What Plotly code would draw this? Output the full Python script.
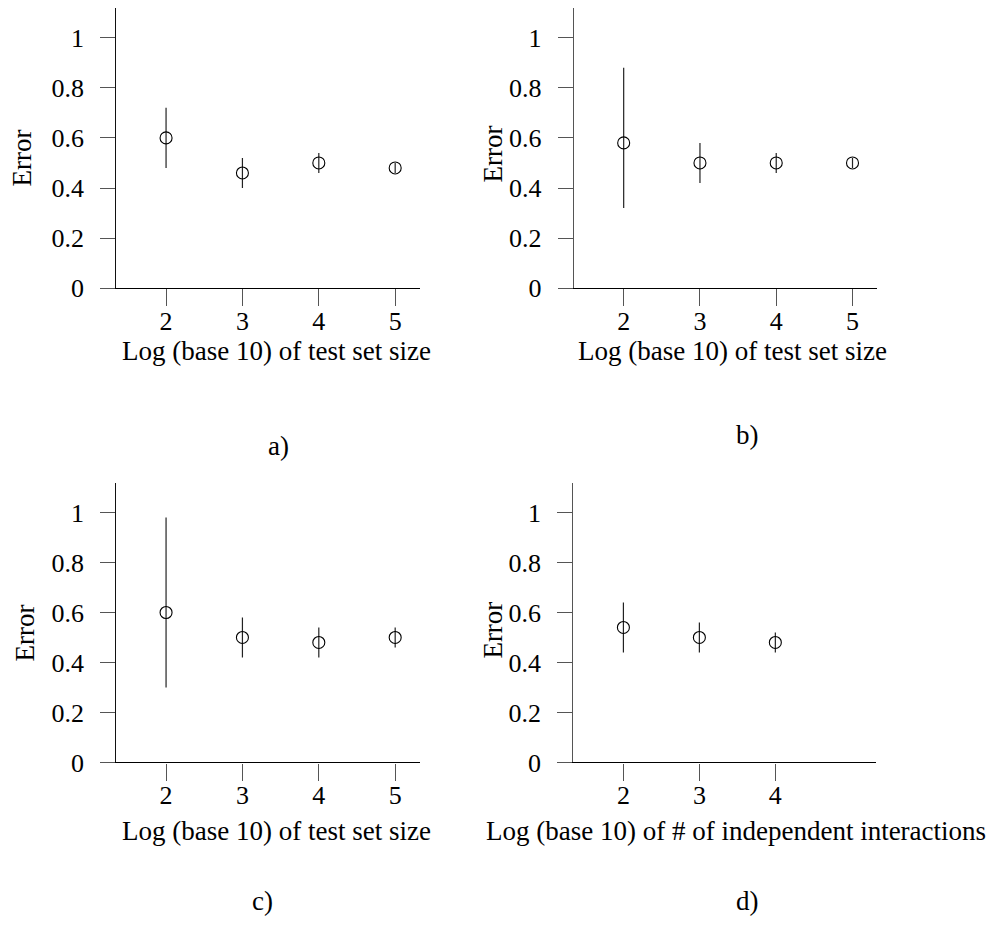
import plotly.graph_objects as go

# ---- data ----
x_a = [2, 3, 4, 5]
y_a = [0.60, 0.46, 0.50, 0.48]
hi_a = [0.72, 0.52, 0.54, 0.50]
lo_a = [0.48, 0.40, 0.46, 0.46]

x_b = [2, 3, 4, 5]
y_b = [0.58, 0.50, 0.50, 0.50]
hi_b = [0.88, 0.58, 0.54, 0.52]
lo_b = [0.32, 0.42, 0.46, 0.48]

x_c = [2, 3, 4, 5]
y_c = [0.60, 0.50, 0.48, 0.50]
hi_c = [0.98, 0.58, 0.54, 0.54]
lo_c = [0.30, 0.42, 0.42, 0.46]

x_d = [2, 3, 4]
y_d = [0.54, 0.50, 0.48]
hi_d = [0.64, 0.56, 0.52]
lo_d = [0.44, 0.44, 0.44]

y_ticks = [0, 0.2, 0.4, 0.6, 0.8, 1]
y_ticklabels = ["0", "0.2", "0.4", "0.6", "0.8", "1"]
xticks_abc = [2, 3, 4, 5]
xticks_d = [2, 3, 4]

xtitle_size = "Log (base 10) of test set size"
xtitle_inter = "Log (base 10) of # of independent interactions"
ytitle = "Error"
panel_labels = ["a)", "b)", "c)", "d)"]

# page body has an 8px margin on every side; work in window pixels and convert
OFF = 8
W, H = 995 - 2 * OFF, 930 - 2 * OFF
FONT = "Liberation Serif"
FS = 27
TFS = 26


def px(x):
    return min(max((x - OFF) / W, 0), 1)


def py(y):
    return min(max(1 - (y - OFF) / H, 0), 1)


panels = [
    dict(x=x_a, y=y_a, hi=hi_a, lo=lo_a, xt=xticks_abc, xd=(100, 420), yd=(8, 293), yaxx=115.3, ycol="#111"),
    dict(x=x_b, y=y_b, hi=hi_b, lo=lo_b, xt=xticks_abc, xd=(557.7, 877.3), yd=(8, 293), yaxx=572.7, ycol="#555"),
    dict(x=x_c, y=y_c, hi=hi_c, lo=lo_c, xt=xticks_abc, xd=(100, 420), yd=(491, 775), yaxx=115.3, ycol="#111"),
    dict(x=x_d, y=y_d, hi=hi_d, lo=lo_d, xt=xticks_d, xd=(557.7, 876), yd=(491, 775), yaxx=572.3, ycol="#555"),
]

fig = go.Figure()
for i, p in enumerate(panels):
    n = "" if i == 0 else str(i + 1)
    plus = [h - v for h, v in zip(p["hi"], p["y"])]
    minus = [v - l for v, l in zip(p["y"], p["lo"])]
    fig.add_trace(go.Scatter(
        x=p["x"], y=p["y"], mode="markers",
        marker=dict(symbol="circle-open", size=12, color="black", line=dict(width=1.1, color="black")),
        error_y=dict(type="data", symmetric=False, array=plus, arrayminus=minus,
                     width=0, thickness=1.2, color="#222"),
        xaxis="x" + n, yaxis="y" + n, showlegend=False,
    ))
    xd = [px(p["xd"][0]), px(p["xd"][1])]
    yd = [py(p["yd"][1]), py(p["yd"][0])]
    fig.layout["xaxis" + n] = dict(
        domain=xd, range=[1.135, 5.325], anchor="y" + n,
        showline=True, linecolor="black", linewidth=1.2,
        ticks="outside", ticklen=17, tickwidth=1.2, tickcolor="#555",
        tickvals=p["xt"], ticktext=[str(v) for v in p["xt"]],
        showgrid=False, zeroline=False, ticklabelstandoff=-8,
        tickfont=dict(family=FONT, size=TFS, color="black"),
    )
    fig.layout["yaxis" + n] = dict(
        domain=yd, range=[0, 1.118], anchor="free", position=px(p["yaxx"]),
        showline=True, linecolor=p["ycol"], linewidth=1.2,
        ticks="outside", ticklen=15, tickwidth=1.2, tickcolor="#555",
        tickvals=y_ticks, ticktext=y_ticklabels,
        showgrid=False, zeroline=False, ticklabelstandoff=11,
        tickfont=dict(family=FONT, size=TFS, color="black"),
    )

ann = []


def A(text, x, y, angle=0):
    ann.append(dict(text=text, x=px(x), y=py(y), xref="paper", yref="paper",
                    xanchor="center", yanchor="middle", showarrow=False, textangle=angle,
                    font=dict(family=FONT, size=FS, color="black")))


A(xtitle_size, 276, 357)
A(xtitle_size, 732, 357)
A(xtitle_size, 276, 845)
A(xtitle_inter, 735.5, 845)
A(ytitle, 22, 161, -90)
A(ytitle, 493, 157, -90)
A(ytitle, 25, 644, -90)
A(ytitle, 493, 641, -90)
A(panel_labels[0], 278, 453)
A(panel_labels[1], 747, 442)
A(panel_labels[2], 263, 916)
A(panel_labels[3], 747, 916)

fig.update_layout(
    width=W, height=H, margin=dict(l=0, r=0, t=0, b=0),
    paper_bgcolor="white", plot_bgcolor="white",
    annotations=ann, showlegend=False,
)
fig.write_html("out.html")
